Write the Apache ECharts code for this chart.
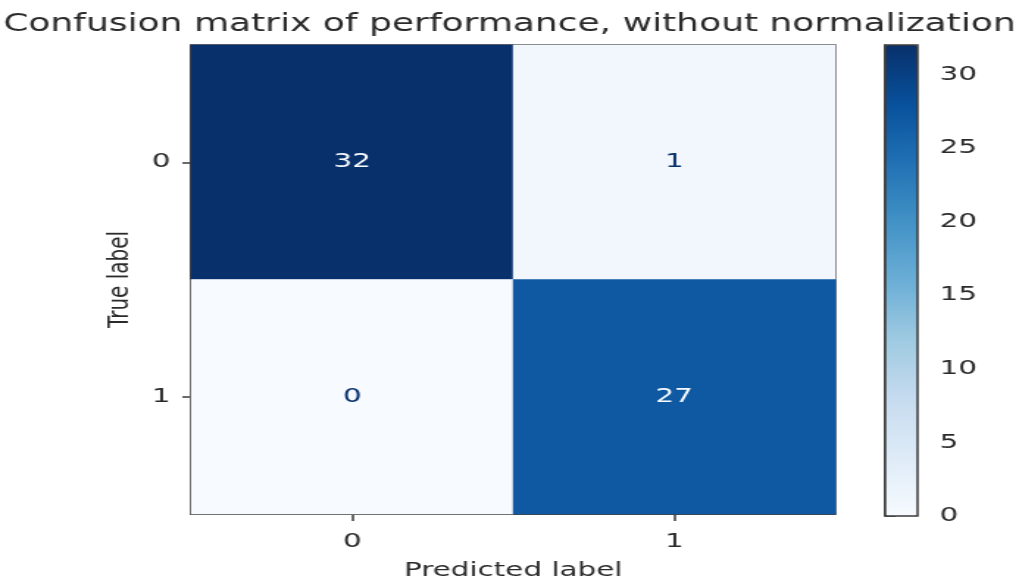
<!DOCTYPE html>
<html>
<head>
<meta charset="utf-8">
<script src="https://cdn.jsdelivr.net/npm/echarts@6/dist/echarts.min.js"></script>
<style>
  html, body { margin: 0; padding: 0; background: #ffffff; overflow: hidden; }
  /* the figure is laid out at its native width and widened to fill the page */
  #chart { width: 693px; height: 586px; transform: scaleX(1.4704); transform-origin: 0 0; }
</style>
</head>
<body>
<div id="chart"></div>
<script>
// Class labels and confusion counts (rows = true label, columns = predicted label)
const predictedLabels = ['0', '1'];
const trueLabels = ['0', '1'];
const countsRow0 = [32, 1];
const countsRow1 = [0, 27];
const colorbarTicks = [0, 5, 10, 15, 20, 25, 30];

// matplotlib "Blues" colour ramp
const blues = ['#f7fbff', '#deebf7', '#c6dbef', '#9ecae1', '#6baed6',
               '#4292c6', '#2171b5', '#08519c', '#08306b'];

const rows = [countsRow0, countsRow1];
const cells = [];
rows.forEach((row, r) => row.forEach((v, c) => cells.push([c, r, v])));
const vMin = Math.min(...cells.map(d => d[2]));
const vMax = Math.max(...cells.map(d => d[2]));
const thresh = (vMin + vMax) / 2;

const FONT = 'DejaVu Sans';
const INK = '#2b2b2b';
const SPINE = '#3a3a3a';

const chart = echarts.init(document.getElementById('chart'), null, { renderer: 'canvas' });
chart.setOption({
  backgroundColor: '#ffffff',
  animation: false,
  textStyle: { fontFamily: FONT },
  title: {
    text: 'Confusion matrix of performance, without normalization',
    left: 'center',
    top: 7,
    textStyle: { fontFamily: FONT, fontSize: 24.5, fontWeight: 'normal', color: INK }
  },
  grid: [
    { left: 130, right: 125, top: 45, bottom: 70, show: true,
      borderColor: SPINE, borderWidth: 1.5, backgroundColor: 'transparent' },
    { left: 602, width: 22, top: 45, bottom: 70, show: true,
      borderColor: SPINE, borderWidth: 1.5, backgroundColor: 'transparent', z: 10 }
  ],
  xAxis: [
    {
      type: 'category', gridIndex: 0, data: predictedLabels,
      name: 'Predicted label', nameLocation: 'middle', nameGap: 47,
      nameTextStyle: { fontFamily: FONT, fontSize: 20, color: INK },
      axisLine: { show: true, lineStyle: { color: SPINE, width: 1.5 } },
      axisTick: { show: true, alignWithLabel: true, length: 7, lineStyle: { color: SPINE, width: 1.5 } },
      axisLabel: { fontFamily: FONT, fontSize: 20, color: INK, margin: 18 },
      splitLine: { show: false }
    },
    { type: 'value', gridIndex: 1, show: false }
  ],
  yAxis: [
    {
      type: 'category', gridIndex: 0, data: trueLabels, inverse: true,
      name: 'True label', nameLocation: 'middle', nameGap: 38, nameRotate: 90,
      nameTextStyle: { fontFamily: FONT, fontSize: 20, color: INK },
      axisLine: { show: true, lineStyle: { color: SPINE, width: 1.5 } },
      axisTick: { show: true, alignWithLabel: true, length: 6, lineStyle: { color: SPINE, width: 1.5 } },
      axisLabel: { fontFamily: FONT, fontSize: 20, color: INK, margin: 14 },
      splitLine: { show: false }
    },
    {
      type: 'value', gridIndex: 1, position: 'right',
      min: 0, max: vMax, interval: 5,
      axisLine: { show: true, lineStyle: { color: SPINE, width: 1.5 } },
      axisTick: { show: true, length: 7, lineStyle: { color: SPINE, width: 1.5 },
                  customValues: colorbarTicks },
      axisLabel: { fontFamily: FONT, fontSize: 20, color: INK, margin: 15,
                   customValues: colorbarTicks },
      splitLine: { show: false }
    }
  ],
  visualMap: {
    type: 'continuous',
    seriesIndex: 0,
    min: vMin, max: vMax,
    calculable: false,
    orient: 'vertical',
    left: 602, top: 45,
    padding: 0,
    itemWidth: 22, itemHeight: 471,
    text: null,
    showLabel: false,
    hoverLink: false,
    inRange: { color: blues }
  },
  series: [
    {
      type: 'heatmap',
      xAxisIndex: 0, yAxisIndex: 0,
      data: cells.map(d => ({
        value: d,
        // light text on dark cells, dark text on light cells
        label: { color: d[2] > thresh ? '#f7fbff' : '#08306b' }
      })),
      label: {
        show: true,
        fontFamily: FONT,
        fontSize: 20,
        formatter: p => String(p.value[2])
      },
      itemStyle: { borderWidth: 0 },
      emphasis: { disabled: true }
    }
  ]
});
</script>
</body>
</html>
